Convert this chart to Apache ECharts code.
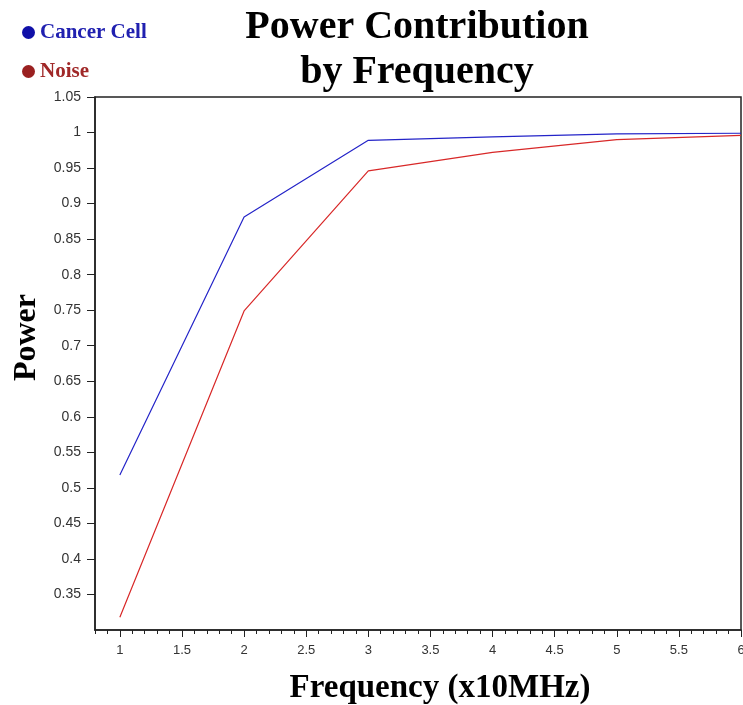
<!DOCTYPE html>
<html>
<head>
<meta charset="utf-8">
<script src="https://cdn.jsdelivr.net/npm/echarts@6/dist/echarts.min.js"></script>
<style>
  html, body { margin: 0; padding: 0; background: #fff; }
  #main { width: 743px; height: 705px; }
</style>
</head>
<body>
<div id="main"></div>
<script>
var frequency = [1, 2, 3, 4, 5, 6];
var cancerCell = [0.518, 0.881, 0.989, 0.994, 0.998, 0.999];
var noise = [0.318, 0.749, 0.946, 0.972, 0.990, 0.996];
var xLabels = [1, 1.5, 2, 2.5, 3, 3.5, 4, 4.5, 5, 5.5, 6];

function pairs(xs, ys) {
  return xs.map(function (x, i) { return [x, ys[i]]; });
}

var serif = '"Liberation Serif", "DejaVu Serif", serif';
var sans = '"Liberation Sans", Arial, sans-serif';

var chart = echarts.init(document.getElementById('main'));
chart.setOption({
  animation: false,
  backgroundColor: '#fff',
  title: {
    text: 'Power Contribution\nby Frequency',
    left: 412,
    top: 0,
    textAlign: 'center',
    textStyle: {
      fontFamily: serif,
      fontWeight: 'bold',
      fontSize: 40,
      lineHeight: 45,
      color: '#000'
    }
  },
  legend: {
    orient: 'vertical',
    left: 17,
    top: 17,
    itemGap: 18,
    itemWidth: 13,
    itemHeight: 13,
    icon: 'circle',
    data: [
      { name: 'Cancer Cell', itemStyle: { color: '#1010a8' }, textStyle: { color: '#2020b0' } },
      { name: 'Noise', itemStyle: { color: '#9a2020' }, textStyle: { color: '#a02828' } }
    ],
    textStyle: {
      fontFamily: serif,
      fontWeight: 'bold',
      fontSize: 21,
      padding: [0, 0, 0, 0]
    }
  },
  grid: {
    left: 95,
    right: 2,
    top: 97,
    bottom: 75,
    show: true,
    borderColor: '#222',
    borderWidth: 1.5,
    containLabel: false,
    outerBoundsMode: 'none'
  },
  xAxis: [
    {
      type: 'value',
      min: 0.8,
      max: 6,
      interval: 0.1,
      name: 'Frequency (x10MHz)',
      nameLocation: 'middle',
      nameGap: 42,
      nameTextStyle: {
        fontFamily: serif, fontWeight: 'bold', fontSize: 33, color: '#000',
        padding: [0, 0, 0, 44]
      },
      axisLine: { lineStyle: { color: '#222', width: 1.5 } },
      axisTick: { length: 7, customValues: xLabels, lineStyle: { color: '#222' } },
      axisLabel: {
        customValues: xLabels,
        margin: 14,
        fontFamily: sans,
        fontSize: 13,
        color: '#333'
      },
      splitLine: { show: false }
    },
    {
      type: 'value',
      position: 'bottom',
      min: 0.8,
      max: 6,
      interval: 0.1,
      axisLine: { show: false },
      axisTick: { length: 4, lineStyle: { color: '#222' } },
      axisLabel: { show: false },
      splitLine: { show: false }
    }
  ],
  yAxis: {
    type: 'value',
    min: 0.3,
    max: 1.05,
    interval: 0.05,
    name: 'Power',
    nameLocation: 'middle',
    nameGap: 52,
    nameTextStyle: {
      fontFamily: serif, fontWeight: 'bold', fontSize: 32, color: '#000',
      padding: [0, 0, 0, 52]
    },
    axisLine: { show: true, lineStyle: { color: '#222', width: 1.5 } },
    axisTick: { show: true, length: 8, lineStyle: { color: '#222' } },
    axisLabel: {
      showMinLabel: false,
      margin: 14,
      fontFamily: sans,
      fontSize: 14,
      color: '#333',
      formatter: function (v) { return String(+v.toFixed(2)); }
    },
    splitLine: { show: false }
  },
  series: [
    {
      name: 'Cancer Cell',
      type: 'line',
      xAxisIndex: 0,
      data: pairs(frequency, cancerCell),
      showSymbol: false,
      symbol: 'none',
      lineStyle: { color: '#2424c8', width: 1.2 },
      itemStyle: { color: '#1010a8' }
    },
    {
      name: 'Noise',
      type: 'line',
      xAxisIndex: 0,
      data: pairs(frequency, noise),
      showSymbol: false,
      symbol: 'none',
      lineStyle: { color: '#d82828', width: 1.2 },
      itemStyle: { color: '#9a2020' }
    }
  ]
});
</script>
</body>
</html>
